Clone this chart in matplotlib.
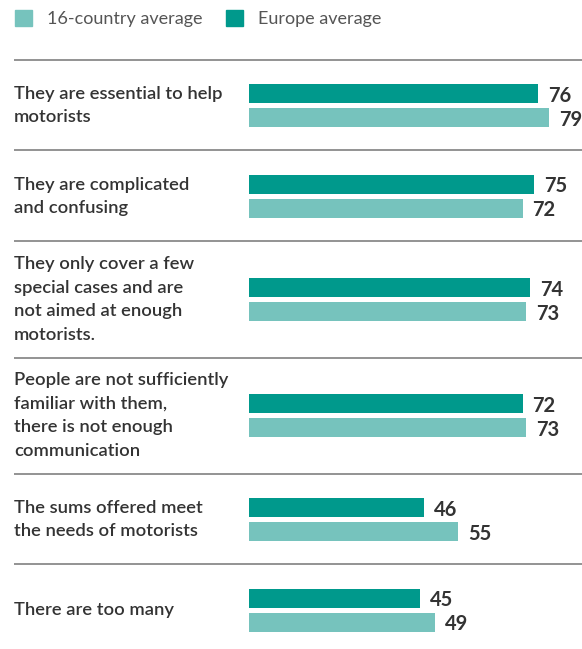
#!/usr/bin/env python3
import matplotlib
matplotlib.use('Agg')
import matplotlib.pyplot as plt
from matplotlib.patches import Patch

plt.rcParams['font.family'] = ['Lato', 'DejaVu Sans']

# %% data
categories = [
    'They are essential to help\nmotorists',
    'They are complicated\nand confusing',
    'They only cover a few\nspecial cases and are\nnot aimed at enough\nmotorists.',
    'People are not sufficiently\nfamiliar with them,\nthere is not enough\ncommunication',
    'The sums offered meet\nthe needs of motorists',
    'There are too many',
]
europe = [76, 75, 74, 72, 46, 45]
country16 = [79, 72, 73, 73, 55, 49]
series_names = ['16-country average', 'Europe average']

# %% layout (pixels, figure is 582x649 at dpi 100)
W, H = 582, 649
px_per_unit = 3.8
x0 = 249  # where value 0 sits
centers = [105.5, 196.5, 299.5, 415.5, 519.5, 610.5]
separators = [60, 150, 241, 358, 474, 564]
bar_h = 19
gap = 5

dark = '#00998c'
light = '#76c3bd'
text_col = '#333333'

fig = plt.figure(figsize=(W / 100, H / 100), dpi=100)
ax = fig.add_axes([0, 0, 1, 1])
ax.set_xlim(-x0 / px_per_unit, (W - x0) / px_per_unit)
ax.set_ylim(H, 0)
ax.axis('off')

off = (bar_h + gap) / 2
for c, cat, e, g in zip(centers, categories, europe, country16):
    ax.barh(c - off, e, height=bar_h, left=0, color=dark)
    ax.barh(c + off, g, height=bar_h, left=0, color=light)
    ax.text(e + 10 / px_per_unit, c - off + 2, str(e), ha='left', va='center',
            fontsize=14.5, fontweight='bold', color=text_col)
    ax.text(g + 10 / px_per_unit, c + off + 2, str(g), ha='left', va='center',
            fontsize=14.5, fontweight='bold', color=text_col)
    ax.text((14 - x0) / px_per_unit, c, cat, ha='left', va='center',
            fontsize=13.2, fontweight='semibold', color=text_col, linespacing=1.6)

ax.hlines(separators, (14 - x0) / px_per_unit, (W - x0) / px_per_unit,
          color='#8a8a8a', lw=1.3)

handles = [Patch(color=light), Patch(color=dark)]
fig.legend(handles, series_names, loc='upper left', bbox_to_anchor=(15 / W, 1 - 10 / H),
           ncol=2, frameon=False, handlelength=0.95, handleheight=0.95,
           handletextpad=0.85, columnspacing=1.25, fontsize=13,
           borderpad=0, borderaxespad=0, labelcolor='#555555')

fig.savefig('out.png', dpi=100)
